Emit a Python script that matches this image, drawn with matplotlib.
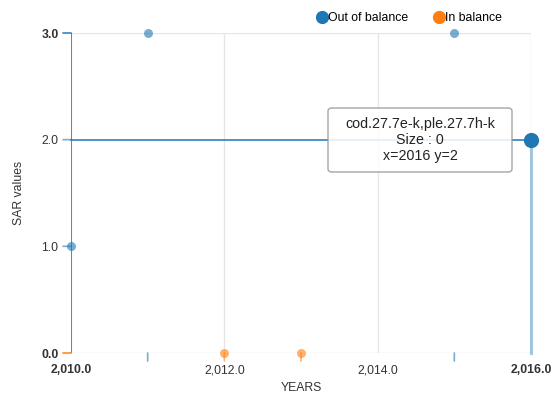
import matplotlib
matplotlib.use("Agg")
import matplotlib.pyplot as plt
from matplotlib.patches import FancyBboxPatch
from matplotlib.lines import Line2D
from matplotlib.ticker import FuncFormatter

plt.rcParams["font.family"] = ["Liberation Sans", "DejaVu Sans"]

# ── data ──────────────────────────────────────────────
out_years = [2010, 2011, 2015, 2016]
out_sar = [1, 3, 3, 2]
in_years = [2012, 2013]
in_sar = [0, 0]
hover_idx = 3          # point under the mouse (Out of balance)
hover_label = "cod.27.7e-k,ple.27.7h-k"
hover_size = 0

x_ticks = [2010, 2012, 2014, 2016]
y_ticks = [0, 1, 2, 3]

BLUE = "#1f77b4"
ORANGE = "#ff7f0e"
GRID = "#e6e6e6"
TXT = "#333333"

fig = plt.figure(figsize=(5.52, 3.97), dpi=100)
ax = fig.add_axes([71 / 552, 1 - 353 / 397, 460 / 552, 320 / 397])
ax.set_xlim(2010, 2016)
ax.set_ylim(0, 3)

for s in ax.spines.values():
    s.set_visible(False)
ax.axvline(2010, color="#777777", lw=1.3, zorder=2)

# grid (only where nvd3 leaves it visible)
for xv in x_ticks:
    ax.axvline(xv, color=GRID, lw=1, zorder=0)
for yv in (y_ticks[0], y_ticks[-1]):
    ax.axhline(yv, color=GRID, lw=1, zorder=0)

ax.set_xticks(x_ticks)
ax.set_yticks(y_ticks)
ax.xaxis.set_major_formatter(FuncFormatter(lambda v, p: f"{v:,.1f}"))
ax.yaxis.set_major_formatter(FuncFormatter(lambda v, p: f"{v:,.1f}"))
ax.tick_params(length=0, labelsize=8.8, labelcolor=TXT)
ax.tick_params(axis="x", pad=8)
ax.tick_params(axis="y", pad=9)
for lbl in ax.get_xticklabels() + ax.get_yticklabels():
    lbl.set_color(TXT)
for lbl in (ax.get_xticklabels()[0], ax.get_xticklabels()[-1],
            ax.get_yticklabels()[0], ax.get_yticklabels()[-1]):
    lbl.set_fontweight("bold")

ax.set_xlabel("YEARS", fontsize=8.8, color=TXT, labelpad=4)
ax.set_ylabel("SAR values", fontsize=8.8, color=TXT, labelpad=12)

# distribution ticks along the axes
for xs, ys, col in ((out_years, out_sar, BLUE), (in_years, in_sar, ORANGE)):
    for xv, yv in zip(xs, ys):
        if 2010 < xv < 2016:
            ax.annotate("", xy=(xv, 0), xytext=(0, -8), textcoords="offset pixels",
                        arrowprops=dict(arrowstyle="-", color=col, lw=1.2, alpha=0.6,
                                        shrinkA=0, shrinkB=0), annotation_clip=False)
        ax.annotate("", xy=(2010, yv), xytext=(-8, 0), textcoords="offset pixels",
                    arrowprops=dict(arrowstyle="-", color=col, lw=1.2, alpha=0.6,
                                    shrinkA=0, shrinkB=0), annotation_clip=False)

# hover guides
hx, hy = out_years[hover_idx], out_sar[hover_idx]
ax.plot([2010, hx], [hy, hy], color=BLUE, lw=1.1, zorder=3, clip_on=False)
ax.plot([hx, hx], [0, hy], color=BLUE, lw=2.2, alpha=0.42, zorder=3,
        clip_on=False)

# points
rest_x = [v for i, v in enumerate(out_years) if i != hover_idx]
rest_y = [v for i, v in enumerate(out_sar) if i != hover_idx]
ax.scatter(rest_x, rest_y, s=42, color=BLUE, alpha=0.6, linewidths=0,
           clip_on=False, zorder=4)
ax.scatter(in_years, in_sar, s=42, color=ORANGE, alpha=0.6, linewidths=0,
           clip_on=False, zorder=4)
ax.scatter([hx], [hy], s=120, color=BLUE, linewidths=0, clip_on=False, zorder=5)

# tooltip
box = FancyBboxPatch((328 / 552, 1 - 172 / 397), 184 / 552, 64 / 397,
                     boxstyle="round,pad=0,rounding_size=0.008",
                     transform=fig.transFigure, facecolor="white", alpha=0.88,
                     edgecolor="#999999", lw=1, zorder=10)
fig.patches.append(box)
tip_lines = [hover_label, f"Size : {hover_size}", f"x={hx} y={hy}"]
for i, t in enumerate(tip_lines):
    fig.text(420 / 552, 1 - (124 + 16 * i) / 397, t, ha="center", va="center",
             fontsize=10.3, color="#222222", zorder=11)

# legend
handles = [Line2D([], [], marker="o", ls="", color=BLUE, markersize=8.5),
           Line2D([], [], marker="o", ls="", color=ORANGE, markersize=8.5)]
fig.legend(handles, ["Out of balance", "In balance"], loc="center",
           bbox_to_anchor=(408 / 552, 1 - 18 / 397), ncol=2, frameon=False,
           fontsize=8.8, handletextpad=-0.1, columnspacing=1.9,
           handlelength=1.2)

fig.savefig("out.png", dpi=100)
